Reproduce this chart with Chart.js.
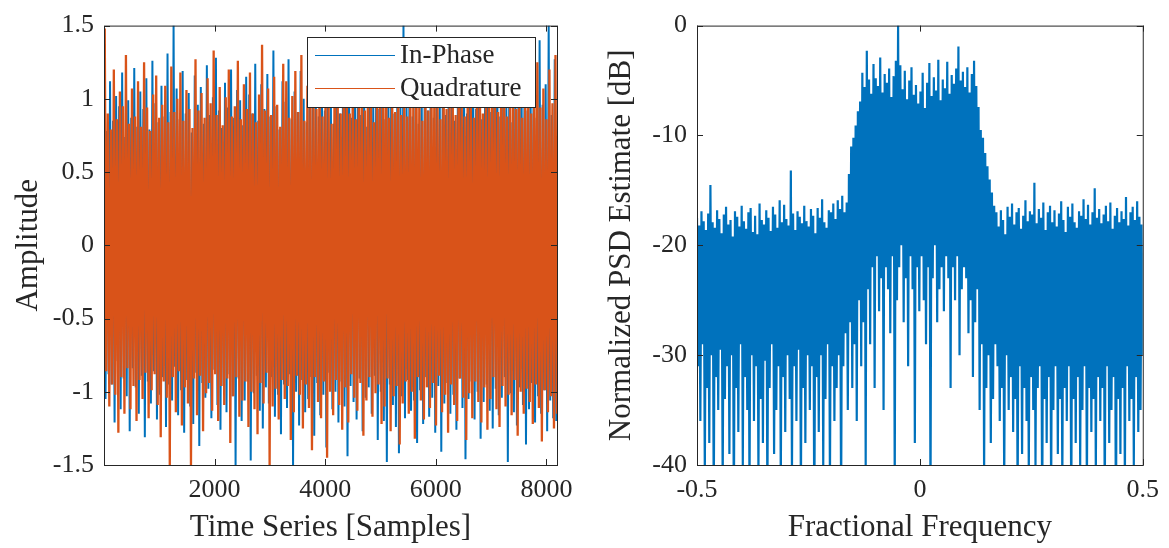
<!DOCTYPE html>
<html>
<head>
<meta charset="utf-8">
<script src="https://cdn.jsdelivr.net/npm/chart.js@4.4.1/dist/chart.umd.min.js"></script>
<style>
  body { margin: 0; background: #fff; width: 1169px; height: 548px; overflow: hidden; position: relative; }
  canvas { position: absolute; top: 0; }
  #left { left: 0; }
  #right { left: 590px; }
</style>
</head>
<body>
<canvas id="left" width="590" height="548"></canvas>
<canvas id="right" width="579" height="548"></canvas>
<script>
// envelope of the time series, read column by column (peak, trough, peak, ...)
const inPhase = [
  0.92,-1.05,0.78,-0.88,1.12,-0.95,0.85,-1.21,1.02,-0.79,0.95,-1.12,1.18,-0.91,0.74,-1.03,0.99,-1.27,0.87,-0.84,
  1.21,-0.97,0.81,-1.15,1.05,-0.89,0.93,-1.31,1.14,-0.93,0.79,-1.08,1.26,-0.86,0.97,-1.19,0.84,-1.02,1.09,-0.9,
  0.88,-1.24,1.31,-0.95,0.91,-1.06,1.5,-0.83,1.07,-1.16,0.86,-0.99,1.19,-1.28,0.9,-0.92,1.04,-1.1,0.77,-1.22,
  1.16,-0.87,0.96,-1.37,1.08,-0.94,0.83,-1.04,1.23,-0.98,0.89,-1.18,1.01,-0.85,1.28,-1.09,0.92,-1.26,0.8,-0.96,
  1.11,-1.14,0.94,-0.88,1.2,-1.03,0.87,-1.5,1.06,-0.91,0.99,-1.2,0.82,-1.06,1.15,-0.93,1.03,-1.47,0.9,-1.01,
  1.24,-0.89,0.85,-1.13,1.1,-1.25,0.93,-0.97,1.17,-1.08,0.88,-0.9,1.33,-1.17,0.95,-1.02,0.79,-1.29,1.12,-0.95,
  0.98,-1.11,1.27,-0.88,0.86,-1.5,1.05,-1.0,0.91,-1.23,1.19,-0.92,1.0,-1.14,0.84,-1.05,1.22,-0.9,0.96,-1.3,
  1.09,-0.94,0.88,-1.16,1.3,-1.02,0.92,-1.38,1.13,-0.87,0.97,-1.12,0.83,-1.0,1.25,-1.21,0.9,-0.93,1.07,-1.1,
  0.94,-1.44,1.18,-0.96,0.87,-1.07,1.02,-1.19,1.35,-0.91,0.89,-1.27,1.06,-1.04,0.81,-0.97,1.2,-1.15,0.99,-0.89,
  1.14,-1.33,0.93,-1.0,1.1,-1.2,0.86,-1.48,1.04,-0.95,1.29,-1.09,0.9,-1.24,1.16,-1.42,0.95,-1.03,1.5,-1.18,
  0.97,-0.92,1.21,-1.13,0.88,-1.06,1.08,-1.35,0.83,-0.99,1.13,-1.22,1.01,-0.9,0.92,-1.17,1.24,-1.04,0.87,-1.28,
  1.06,-0.96,0.94,-1.41,1.17,-1.08,0.89,-0.94,1.32,-1.15,1.0,-1.02,0.85,-1.26,1.12,-0.91,0.98,-1.11,1.19,-1.46,
  0.9,-1.05,1.07,-0.93,1.26,-1.19,0.93,-1.0,1.03,-1.32,0.86,-1.07,1.15,-0.95,1.36,-1.13,0.91,-1.25,1.05,-0.98,
  1.2,-1.16,0.88,-1.04,1.09,-0.9,0.96,-1.48,1.23,-1.01,0.84,-1.14,1.11,-1.23,0.95,-0.97,1.28,-1.09,1.0,-1.36,
  0.92,-1.12,1.15,-0.94,1.04,-1.21,0.87,-1.03,1.4,-1.15,0.96,-0.99,1.1,-1.27,1.5,-1.06,0.89,-1.18,1.27,-1.2
];
const quadrature = [
  1.48,-0.86,0.9,-1.1,0.79,-0.95,1.2,-1.02,0.86,-1.28,1.05,-0.9,0.95,-1.15,1.3,-0.84,0.83,-1.12,1.07,-0.96,
  0.88,-1.2,1.12,-0.92,0.81,-1.05,1.25,-0.87,0.94,-1.18,0.78,-0.99,1.03,-0.88,1.16,-1.09,0.87,-1.31,0.96,-0.93,
  1.09,-1.04,0.84,-1.5,1.22,-0.9,0.91,-1.14,1.0,-0.86,1.18,-1.23,0.85,-0.97,1.06,-1.08,0.93,-1.5,0.8,-0.91,
  1.27,-1.16,0.92,-0.89,1.04,-1.27,0.87,-1.01,1.14,-0.94,0.97,-1.13,1.33,-0.88,0.89,-1.2,1.08,-0.96,0.82,-1.09,
  1.01,-0.91,1.2,-1.35,0.88,-1.03,0.95,-0.9,1.26,-1.17,0.86,-1.06,1.1,-0.93,0.93,-1.24,1.18,-1.0,0.9,-1.12,
  0.84,-1.29,1.03,-0.94,1.37,-1.08,0.92,-0.87,1.07,-1.5,0.89,-1.1,1.15,-0.98,0.96,-1.19,0.81,-0.92,1.24,-1.05,
  1.12,-0.96,0.87,-1.33,1.02,-1.14,1.19,-0.89,0.91,-1.02,1.3,-1.25,0.85,-0.95,1.09,-1.11,0.97,-1.4,1.06,-0.9,
  0.93,-1.07,1.23,-1.18,0.88,-0.93,1.11,-1.45,0.98,-1.0,0.83,-1.16,1.28,-0.92,1.0,-1.09,0.9,-1.26,1.13,-0.97,
  1.05,-1.21,0.9,-0.88,1.17,-1.04,0.86,-1.13,1.25,-0.94,0.99,-1.3,0.92,-1.06,1.14,-0.9,1.02,-1.17,0.84,-1.01,
  1.2,-0.95,0.94,-1.22,1.08,-1.1,1.34,-0.91,0.87,-1.27,1.06,-1.03,0.91,-0.96,1.19,-1.36,0.89,-1.08,1.03,-0.93,
  0.88,-1.15,1.13,-1.0,0.95,-1.32,1.27,-0.9,1.01,-1.06,0.85,-1.19,1.16,-0.97,0.92,-1.11,1.1,-0.94,1.22,-1.23,
  1.0,-0.89,0.86,-1.14,1.21,-1.02,0.93,-1.28,1.05,-0.95,1.15,-1.09,0.89,-1.2,1.31,-0.91,0.96,-1.04,0.88,-1.33,
  1.16,-1.01,0.97,-1.18,0.87,-0.93,1.12,-1.07,1.24,-1.21,0.9,-0.97,1.04,-1.26,0.95,-1.05,1.18,-0.9,1.06,-1.12,
  0.91,-1.24,1.09,-0.96,1.29,-1.1,0.88,-1.02,1.02,-1.16,1.14,-0.92,0.93,-1.3,1.21,-1.0,0.87,-1.15,1.11,-0.98,
  1.03,-1.07,0.9,-1.22,1.18,-0.95,1.25,-1.11,0.94,-1.34,1.07,-0.99,0.86,-1.14,1.2,-1.03,0.97,-1.25,1.3,-1.15
];
// PSD envelope in dB over fractional frequency -0.5 .. 0.5 (peak, trough, ...)
const psdDb = [
  -17.5,-31,-18.2,-36,-16.9,-29,-17.8,-41,-18.6,-33,-17.1,-38,-14.5,-30,-17.9,-44,-18.4,-32,-16.8,-35,
  -17.6,-29.5,-18.9,-42,-17.2,-34,-16.5,-31,-18.1,-39,-17.7,-30,-19.2,-45,-16.9,-33,-17.4,-37,-18.3,-29,
  -16.4,-40,-17.8,-32,-18.5,-35,-17.0,-43,-16.6,-30,-18.8,-36,-17.3,-31,-19.0,-41,-16.2,-34,-17.7,-38,
  -18.1,-30.5,-16.8,-44,-17.5,-33,-18.7,-29,-16.5,-39,-17.2,-35,-18.4,-31,-15.9,-42,-17.9,-32,-16.3,-37,
  -17.6,-30,-18.2,-34,-13.2,-41,-17.1,-31,-18.6,-36,-16.9,-29.5,-17.4,-43,-18.0,-33,-16.4,-38,-17.8,-30,
  -18.3,-35,-16.7,-31,-17.3,-46,-18.9,-32,-16.6,-37,-17.5,-30,-15.8,-40,-17.9,-34,-18.4,-29,-16.8,-42,
  -17.0,-31,-16.2,-36,-17.6,-33,-15.9,-30,-16.7,-44,-15.5,-31,-17.0,-28,-16.1,-35,-13.5,-27,-11.0,-33,
  -10.2,-29,-9.1,-36,-7.8,-25,-6.9,-31,-4.3,-27,-5.6,-40,-2.3,-24,-4.9,-29,-6.2,-22,-3.5,-33,
  -4.8,-21,-5.5,-26,-2.9,-23,-6.1,-35,-4.4,-22,-5.2,-24,-3.9,-28,-6.5,-21,-4.6,-42,-3.2,-25,
  0.0,-22,-3.6,-20,-5.8,-27,-4.1,-23,-6.7,-31,-5.0,-21,-3.8,-24,-6.3,-38,-5.4,-22,-7.1,-26,
  -6.0,-21,-4.3,-25,-7.5,-29,-5.2,-22,-3.4,-44,-6.4,-23,-4.7,-20,-5.9,-27,-3.1,-24,-6.8,-22,
  -4.9,-26,-5.7,-21,-3.3,-23,-6.2,-33,-4.5,-22,-5.3,-25,-3.9,-21,-1.9,-30,-5.0,-24,-4.2,-22,
  -5.6,-23,-3.8,-28,-6.1,-25,-4.4,-32,-3.2,-27,-5.5,-24,-7.4,-35,-9.5,-29,-10.2,-41,-11.6,-33,
  -12.8,-30,-14.0,-38,-15.2,-34,-16.4,-29,-17.0,-31,-18.3,-36,-16.8,-33,-17.7,-42,-19.0,-30,-16.5,-35,
  -17.4,-32,-16.2,-37,-18.1,-34,-17.0,-44,-16.6,-31,-18.5,-39,-17.3,-33,-15.9,-36,-17.8,-41,-16.9,-32,
  -17.2,-35,-14.3,-40,-18.0,-33,-16.7,-31,-17.5,-46,-16.1,-34,-18.6,-38,-17.0,-32,-16.4,-43,-17.9,-35,
  -16.8,-31,-18.3,-39,-17.1,-34,-16.0,-42,-17.7,-33,-18.8,-36,-16.5,-31,-17.4,-45,-16.2,-34,-17.9,-38,
  -18.4,-32,-16.9,-40,-17.3,-35,-15.8,-31,-17.6,-43,-16.3,-33,-18.1,-37,-17.0,-34,-14.8,-41,-17.5,-32,
  -16.7,-36,-18.0,-33,-17.2,-44,-16.4,-31,-17.8,-38,-16.1,-35,-18.5,-32,-17.3,-47,-16.6,-34,-17.9,-39,
  -16.9,-33,-17.6,-42,-15.6,-31,-18.2,-36,-17.0,-34,-16.5,-40,-17.7,-32,-16.0,-37,-17.4,-35,-18.1,-30
];
const sampleTicks = [2000, 4000, 6000, 8000];
const ampTicks = [-1.5, -1, -0.5, 0, 0.5, 1, 1.5];
const freqTicks = [-0.5, 0, 0.5];
const dbTicks = [-40, -30, -20, -10, 0];
const nSamples = 8192;

const serif = '"Liberation Serif", "Times New Roman", serif';
const ink = '#262626';
const blue = '#0072BD';
const orange = '#D95319';

// spread a list of values evenly between x0 and x1
function spread(vals, x0, x1) {
  const step = (x1 - x0) / (vals.length - 1);
  return vals.map((v, i) => ({ x: x0 + i * step, y: v }));
}

// matlab style box with inward ticks on all four sides
const frame = {
  id: 'frame',
  afterDatasetsDraw(chart) {
    const { ctx, chartArea: a, scales } = chart;
    const L = 6;
    ctx.save();
    ctx.strokeStyle = ink;
    ctx.lineWidth = 1;
    ctx.beginPath();
    scales.x.ticks.forEach(t => {
      const px = Math.round(scales.x.getPixelForValue(t.value)) + 0.5;
      ctx.moveTo(px, a.bottom); ctx.lineTo(px, a.bottom - L);
      ctx.moveTo(px, a.top); ctx.lineTo(px, a.top + L);
    });
    scales.y.ticks.forEach(t => {
      const py = Math.round(scales.y.getPixelForValue(t.value)) + 0.5;
      ctx.moveTo(a.left, py); ctx.lineTo(a.left + L, py);
      ctx.moveTo(a.right, py); ctx.lineTo(a.right - L, py);
    });
    ctx.stroke();
    ctx.strokeRect(a.left + 0.5, a.top + 0.5, a.right - a.left, a.bottom - a.top);
    ctx.restore();
  }
};

const boxLegend = {
  id: 'boxLegend',
  afterDraw(chart) {
    const ctx = chart.ctx;
    const x = 307, y = 37, w = 228, h = 70;
    ctx.save();
    ctx.fillStyle = '#fff';
    ctx.fillRect(x, y, w, h);
    ctx.strokeStyle = ink;
    ctx.lineWidth = 1;
    ctx.strokeRect(x + 0.5, y + 0.5, w, h);
    ctx.font = '27px ' + serif;
    ctx.textBaseline = 'middle';
    chart.data.datasets.forEach((ds, i) => {
      const ly = y + 18 + i * 33;
      ctx.strokeStyle = ds.borderColor;
      ctx.beginPath();
      ctx.moveTo(x + 8, ly + 0.5);
      ctx.lineTo(x + 88, ly + 0.5);
      ctx.stroke();
      ctx.fillStyle = ink;
      ctx.fillText(ds.label, x + 93, ly + 1);
    });
    ctx.restore();
  }
};

function axis(min, max, tickVals, extra) {
  return Object.assign({
    type: 'linear', min: min, max: max,
    afterBuildTicks: s => { s.ticks = tickVals.map(v => ({ value: v })); },
    grid: { display: false, drawTicks: false },
    border: { display: false },
    ticks: { color: ink, font: { family: serif, size: 26 }, padding: 10, maxRotation: 0, autoSkip: false, callback: v => String(v) }
  }, extra);
}

function title(text, pad) {
  return { display: true, text: text, color: ink, font: { family: serif, size: 31 }, padding: pad };
}

const baseOpts = {
  responsive: false,
  animation: false,
  events: [],
  devicePixelRatio: 1,
  plugins: { legend: { display: false }, tooltip: { enabled: false } },
  elements: { point: { radius: 0 }, line: { borderWidth: 2, tension: 0 } }
};

const halfStep = (nSamples - 1) / (inPhase.length - 1) / 2;

new Chart(document.getElementById('left'), {
  type: 'line',
  data: {
    datasets: [
      { label: 'In-Phase', data: spread(inPhase, 1, nSamples - halfStep), borderColor: blue, order: 1 },
      { label: 'Quadrature', data: spread(quadrature, 1 + halfStep, nSamples), borderColor: orange, borderWidth: 2.3, order: 0 }
    ]
  },
  options: Object.assign({}, baseOpts, {
    layout: { padding: { top: 17, right: 33, bottom: 0, left: 0 } },
    scales: {
      x: axis(1, nSamples, sampleTicks, {
        afterFit: s => { s.height = 83; },
        title: title('Time Series [Samples]', { top: 0, bottom: 2 })
      }),
      y: axis(-1.5, 1.5, ampTicks, {
        afterFit: s => { s.width = 104; },
        title: title('Amplitude', { top: 10, bottom: 0 })
      })
    }
  }),
  plugins: [frame, boxLegend]
});

new Chart(document.getElementById('right'), {
  type: 'line',
  data: {
    datasets: [
      { label: 'PSD', data: spread(psdDb, -0.5, 0.5), borderColor: blue, borderWidth: 2.2 }
    ]
  },
  options: Object.assign({}, baseOpts, {
    layout: { padding: { top: 17, right: 22, bottom: 0, left: 0 } },
    scales: {
      x: axis(-0.5, 0.5, freqTicks, {
        afterFit: s => { s.height = 83; },
        title: title('Fractional Frequency', { top: 0, bottom: 2 })
      }),
      y: axis(-40, 0, dbTicks, {
        afterFit: s => { s.width = 107; },
        title: title('Normalized PSD Estimate [dB]', { top: 13, bottom: 0 })
      })
    }
  }),
  plugins: [frame]
});
</script>
</body>
</html>
